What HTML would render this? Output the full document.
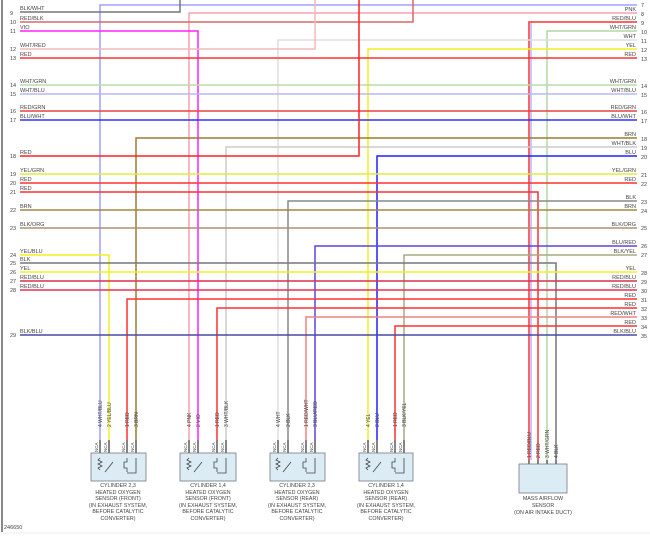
<!DOCTYPE html>
<html><head><meta charset="utf-8"><style>
html,body{margin:0;padding:0;background:#fff;width:650px;height:543px;overflow:hidden}
svg text{font-family:"Liberation Sans",sans-serif;fill:#444}
</style></head><body>
<svg width="650" height="543" viewBox="0 0 650 543" xmlns="http://www.w3.org/2000/svg">
<line x1="2" y1="0" x2="2" y2="532" stroke="#888" stroke-width="2"/>
<g fill="none" stroke-width="1.5">
<!-- horizontals -->
<path d="M100 440V5H637" stroke="#a0a0ff"/>
<path d="M20 12H180V0" stroke="#777"/>
<path d="M189 440V13H637" stroke="#f5a0b0"/>
<path d="M20 22H413V0" stroke="#d86868"/>
<path d="M529 460V22H637" stroke="#ff3030"/>
<path d="M531 460V23" stroke="#9090ff" stroke-width="1"/>
<path d="M20 31H198V440" stroke="#ff20ff"/>
<path d="M547 460V31H637" stroke="#b0d8a0"/>
<path d="M278 440V40H637" stroke="#ddd"/>
<path d="M20 49H315V0" stroke="#f2b8b8"/>
<path d="M368 440V49H637" stroke="#f0f020"/>
<path d="M20 58H637" stroke="#ff3030"/>
<path d="M20 85H637" stroke="#b8dca8"/>
<path d="M20 94H637" stroke="#b8b8f4"/>
<path d="M20 111H637" stroke="#e84040"/>
<path d="M20 120H637" stroke="#3030ff"/>
<path d="M136 440V138H637" stroke="#9c7c30"/>
<path d="M226 440V147H637" stroke="#ccc"/>
<path d="M20 156H359V0" stroke="#ff2020"/>
<path d="M377 440V156H637" stroke="#2020ff"/>
<path d="M20 174H637" stroke="#e0ec40"/>
<path d="M20 183H637" stroke="#ff3030"/>
<path d="M20 192H538V460" stroke="#ff3030"/>
<path d="M288 440V201H637" stroke="#888"/>
<path d="M20 210H637" stroke="#a08840"/>
<path d="M20 228H637" stroke="#b09070"/>
<path d="M315 440V246H637" stroke="#6040e0"/>
<path d="M20 255H109V440" stroke="#f0f020"/>
<path d="M404 440V255H637" stroke="#a8a880"/>
<path d="M20 263H556V460" stroke="#777"/>
<path d="M20 272H637" stroke="#f0f020"/>
<path d="M20 281H637" stroke="#d83050"/>
<path d="M20 290H637" stroke="#e83050"/>
<path d="M127 440V299H637" stroke="#ff3030"/>
<path d="M217 440V308H637" stroke="#ff3030"/>
<path d="M306 440V317H637" stroke="#f08080"/>
<path d="M395 440V326H637" stroke="#ff3030"/>
<path d="M20 335H637" stroke="#4848a0"/>
</g>
<g font-size="5.5">
<text x="20" y="10">BLK/WHT</text><text x="20" y="20">RED/BLK</text><text x="20" y="29">VIO</text>
<text x="20" y="47">WHT/RED</text><text x="20" y="56">RED</text><text x="20" y="83">WHT/GRN</text>
<text x="20" y="92">WHT/BLU</text><text x="20" y="109">RED/GRN</text><text x="20" y="118">BLU/WHT</text>
<text x="20" y="154">RED</text><text x="20" y="172">YEL/GRN</text><text x="20" y="181">RED</text>
<text x="20" y="190">RED</text><text x="20" y="208">BRN</text><text x="20" y="226">BLK/ORG</text>
<text x="20" y="253">YEL/BLU</text><text x="20" y="261">BLK</text><text x="20" y="270">YEL</text>
<text x="20" y="279">RED/BLU</text><text x="20" y="288">RED/BLU</text><text x="20" y="333">BLK/BLU</text>
</g>
<g font-size="5.5">
<text x="10" y="15">9</text><text x="10" y="24">10</text><text x="10" y="33">11</text><text x="10" y="51">12</text>
<text x="10" y="60">13</text><text x="10" y="87">14</text><text x="10" y="96">15</text><text x="10" y="113">16</text>
<text x="10" y="122">17</text><text x="10" y="158">18</text><text x="10" y="176">19</text><text x="10" y="185">20</text>
<text x="10" y="194">21</text><text x="10" y="212">22</text><text x="10" y="230">23</text><text x="10" y="257">24</text>
<text x="10" y="265">25</text><text x="10" y="274">26</text><text x="10" y="283">27</text><text x="10" y="292">28</text>
<text x="10" y="337">29</text>
</g>
<g font-size="5.5" text-anchor="end">
<text x="636" y="11">PNK</text><text x="636" y="20">RED/BLU</text><text x="636" y="29">WHT/GRN</text>
<text x="636" y="38">WHT</text><text x="636" y="47">YEL</text><text x="636" y="56">RED</text>
<text x="636" y="83">WHT/GRN</text><text x="636" y="92">WHT/BLU</text><text x="636" y="109">RED/GRN</text>
<text x="636" y="118">BLU/WHT</text><text x="636" y="136">BRN</text><text x="636" y="145">WHT/BLK</text>
<text x="636" y="154">BLU</text><text x="636" y="172">YEL/GRN</text><text x="636" y="181">RED</text>
<text x="636" y="199">BLK</text><text x="636" y="208">BRN</text><text x="636" y="226">BLK/ORG</text>
<text x="636" y="244">BLU/RED</text><text x="636" y="253">BLK/YEL</text><text x="636" y="270">YEL</text>
<text x="636" y="279">RED/BLU</text><text x="636" y="288">RED/BLU</text><text x="636" y="297">RED</text>
<text x="636" y="306">RED</text><text x="636" y="315">RED/WHT</text><text x="636" y="324">RED</text>
<text x="636" y="333">BLK/BLU</text>
</g>
<g font-size="5.5">
<text x="641" y="7">7</text><text x="641" y="16">8</text><text x="641" y="25">9</text><text x="641" y="34">10</text>
<text x="641" y="43">11</text><text x="641" y="52">12</text><text x="641" y="61">13</text><text x="641" y="88">14</text>
<text x="641" y="97">15</text><text x="641" y="114">16</text><text x="641" y="123">17</text><text x="641" y="141">18</text>
<text x="641" y="150">19</text><text x="641" y="159">20</text><text x="641" y="177">21</text><text x="641" y="186">22</text>
<text x="641" y="204">23</text><text x="641" y="213">24</text><text x="641" y="230">25</text><text x="641" y="248">26</text>
<text x="641" y="257">27</text><text x="641" y="275">28</text><text x="641" y="284">29</text><text x="641" y="293">30</text>
<text x="641" y="302">31</text><text x="641" y="311">32</text><text x="641" y="320">33</text><text x="641" y="329">34</text>
<text x="641" y="338">35</text>
</g>
<!-- sensors -->
<g id="s" stroke="#333" stroke-width="1" fill="none"></g>
<g font-size="5.5">
<!-- sensor connectors -->
<g stroke="#333" stroke-width="1.2" fill="none">
<path d="M100 440v13M109 440v13M127 440v13M136 440v13M189 440v13M198 440v13M217 440v13M226 440v13M278 440v13M288 440v13M306 440v13M315 440v13M368 440v13M377 440v13M395 440v13M404 440v13M529 460v4M538 460v4M547 460v4M556 460v4"/>
</g>
<g fill="#dcecf4" stroke="#778" stroke-width="0.8">
<rect x="91" y="453" width="55" height="28"/><rect x="180" y="453" width="56" height="28"/>
<rect x="270" y="453" width="55" height="28"/><rect x="359" y="453" width="54" height="28"/>
<rect x="519" y="464" width="48" height="29"/>
</g>
<g stroke="#444" stroke-width="0.8" fill="none">
<path d="M100 458l-2 2 4 2-4 2 4 2-4 2 2 2M105 472l8-10M127 458v4h-3v6h3v4M136 458v15h-9"/>
<path d="M189 458l-2 2 4 2-4 2 4 2-4 2 2 2M194 472l8-10M217 458v4h-3v6h3v4M226 458v15h-9"/>
<path d="M278 458l-2 2 4 2-4 2 4 2-4 2 2 2M283 472l8-10M306 458v4h-3v6h3v4M315 458v15h-9"/>
<path d="M368 458l-2 2 4 2-4 2 4 2-4 2 2 2M373 472l8-10M395 458v4h-3v6h3v4M404 458v15h-9"/>
</g>
<g font-size="5" text-anchor="start">
<text transform="translate(102,427) rotate(-90)">4  WHT/BLU</text><text transform="translate(111,427) rotate(-90)">2  YEL/BLU</text>
<text transform="translate(129,427) rotate(-90)">1  RED</text><text transform="translate(138,427) rotate(-90)">3  BRN</text>
<text transform="translate(191,427) rotate(-90)">4  PNK</text><text transform="translate(200,427) rotate(-90)">2  VIO</text>
<text transform="translate(219,427) rotate(-90)">1  RED</text><text transform="translate(228,427) rotate(-90)">3  WHT/BLK</text>
<text transform="translate(280,427) rotate(-90)">4  WHT</text><text transform="translate(290,427) rotate(-90)">2  BLK</text>
<text transform="translate(308,427) rotate(-90)">1  RED/WHT</text><text transform="translate(317,427) rotate(-90)">3  BLU/RED</text>
<text transform="translate(370,427) rotate(-90)">4  YEL</text><text transform="translate(379,427) rotate(-90)">2  BLU</text>
<text transform="translate(397,427) rotate(-90)">1  RED</text><text transform="translate(406,427) rotate(-90)">3  BLK/YEL</text>
<text transform="translate(531,458) rotate(-90)">1  RED/BLU</text><text transform="translate(540,458) rotate(-90)">2  RED</text>
<text transform="translate(549,458) rotate(-90)">3  WHT/GRN</text><text transform="translate(558,458) rotate(-90)">4  BLK</text>
</g>
<g font-size="4.5">
<text transform="translate(98,452) rotate(-90)">NCA</text><text transform="translate(107,452) rotate(-90)">NCA</text><text transform="translate(125,452) rotate(-90)">NCA</text><text transform="translate(134,452) rotate(-90)">NCA</text>
<text transform="translate(187,452) rotate(-90)">NCA</text><text transform="translate(196,452) rotate(-90)">NCA</text><text transform="translate(215,452) rotate(-90)">NCA</text><text transform="translate(224,452) rotate(-90)">NCA</text>
<text transform="translate(276,452) rotate(-90)">NCA</text><text transform="translate(286,452) rotate(-90)">NCA</text><text transform="translate(304,452) rotate(-90)">NCA</text><text transform="translate(313,452) rotate(-90)">NCA</text>
<text transform="translate(366,452) rotate(-90)">NCA</text><text transform="translate(375,452) rotate(-90)">NCA</text><text transform="translate(393,452) rotate(-90)">NCA</text><text transform="translate(402,452) rotate(-90)">NCA</text>
</g>
<g font-size="5.3" text-anchor="middle">
<text x="118" y="487">CYLINDER 2,3</text><text x="118" y="494">HEATED OXYGEN</text><text x="118" y="500">SENSOR (FRONT)</text><text x="118" y="507">(IN EXHAUST SYSTEM,</text><text x="118" y="513">BEFORE CATALYTIC</text><text x="118" y="520">CONVERTER)</text>
<text x="208" y="487">CYLINDER 1,4</text><text x="208" y="494">HEATED OXYGEN</text><text x="208" y="500">SENSOR (FRONT)</text><text x="208" y="507">(IN EXHAUST SYSTEM,</text><text x="208" y="513">BEFORE CATALYTIC</text><text x="208" y="520">CONVERTER)</text>
<text x="297" y="487">CYLINDER 2,3</text><text x="297" y="494">HEATED OXYGEN</text><text x="297" y="500">SENSOR (REAR)</text><text x="297" y="507">(IN EXHAUST SYSTEM,</text><text x="297" y="513">BEFORE CATALYTIC</text><text x="297" y="520">CONVERTER)</text>
<text x="386" y="487">CYLINDER 1,4</text><text x="386" y="494">HEATED OXYGEN</text><text x="386" y="500">SENSOR (REAR)</text><text x="386" y="507">(IN EXHAUST SYSTEM,</text><text x="386" y="513">BEFORE CATALYTIC</text><text x="386" y="520">CONVERTER)</text>
<text x="543" y="500">MASS AIRFLOW</text><text x="543" y="507">SENSOR</text><text x="543" y="514">(ON AIR INTAKE DUCT)</text>
</g>
<text x="4" y="529" font-size="5.5">246650</text>
</g>
<line x1="0" y1="533" x2="650" y2="533" stroke="#eee" stroke-width="1"/>
</svg>
</body></html>
